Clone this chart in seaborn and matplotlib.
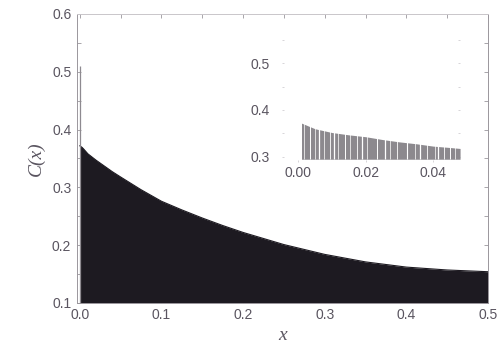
import matplotlib
matplotlib.use("Agg")
import matplotlib.pyplot as plt
from matplotlib.ticker import MultipleLocator
import seaborn as sns
import pandas as pd

# C(x) sampled along x
x_vals = [0.000, 0.003, 0.005, 0.010, 0.020, 0.030, 0.040, 0.050, 0.075, 0.100,
          0.125, 0.150, 0.175, 0.200, 0.250, 0.300, 0.350, 0.400, 0.450, 0.500]
c_vals = [0.372, 0.369, 0.366, 0.358, 0.347, 0.337, 0.327, 0.318, 0.296, 0.276,
          0.261, 0.247, 0.234, 0.222, 0.201, 0.184, 0.171, 0.162, 0.157, 0.154]

# narrow peak at the origin
spike_x = 0.0006
spike_top = 0.51

# magnified view near the origin
inset_x = [0.001, 0.005, 0.010, 0.015, 0.020, 0.025, 0.030, 0.035, 0.040, 0.045, 0.048]
inset_c = [0.372, 0.360, 0.352, 0.347, 0.343, 0.337, 0.332, 0.328, 0.323, 0.320, 0.318]
inset_gaps = [0.0006, 0.0016, 0.0036, 0.0050, 0.0063, 0.0077, 0.0093, 0.0105, 0.0119,
              0.0139, 0.0154, 0.0174, 0.0189, 0.0203, 0.0233, 0.0258, 0.0273, 0.0292,
              0.0322, 0.0347, 0.0361, 0.0381, 0.0406, 0.0416, 0.0431, 0.0450, 0.0465]
gap_widths = [0.9, 0.5, 0.7, 0.5, 0.9, 0.5, 0.6, 0.9, 0.5, 0.7, 0.5, 0.6, 0.9, 0.5,
              0.7, 0.9, 0.5, 0.6, 0.8, 0.5, 0.9, 0.6, 0.5, 0.9, 0.6, 0.7, 0.5]

main_xticks = [0.0, 0.1, 0.2, 0.3, 0.4, 0.5]
main_yticks = [0.1, 0.2, 0.3, 0.4, 0.5, 0.6]
inset_xticks = [0.00, 0.02, 0.04]
inset_yticks = [0.3, 0.4, 0.5]

sns.set_theme(style="ticks")
plt.rcParams["font.family"] = ["Liberation Sans", "DejaVu Sans"]

text_col = "#5a5560"
fill_col = "#1d1a21"
spine_col = "#9a969c"

fig = plt.figure(figsize=(4.99, 3.49), dpi=100)
ax = fig.add_axes([0.154, 0.132, 0.824, 0.828])

df = pd.DataFrame({"x": x_vals, "C": c_vals})
ax.fill_between(df["x"], 0.1, df["C"], color=fill_col, linewidth=0)
sns.lineplot(data=df, x="x", y="C", ax=ax, color=fill_col, linewidth=0.8)
ax.vlines(spike_x, 0.1, spike_top, color="#8e8a90", linewidth=0.9)

ax.set_xlim(-0.0035, 0.5)
ax.set_ylim(0.1, 0.6)
ax.set_xticks(main_xticks)
ax.set_yticks(main_yticks)
ax.set_xticklabels([f"{v:.1f}" for v in main_xticks])
ax.set_yticklabels([f"{v:.1f}" for v in main_yticks])
ax.xaxis.set_minor_locator(MultipleLocator(0.05))
ax.yaxis.set_minor_locator(MultipleLocator(0.05))
ax.tick_params(which="both", direction="in", top=True, right=True,
               length=3, width=0.6, color=spine_col, labelsize=10,
               labelcolor=text_col, pad=4)
for s in ax.spines.values():
    s.set_color(spine_col)
    s.set_linewidth(0.7)
ax.spines["top"].set_color("#c9c6ca")

ax.set_xlabel("x", family=["Liberation Serif"], style="italic", fontsize=14,
              color=text_col, labelpad=3)
ax.set_ylabel("C(x)", family=["Liberation Serif"], style="italic", fontsize=14,
              color=text_col, labelpad=5)

# inset
ins = fig.add_axes([0.565, 0.537, 0.357, 0.363])
ins.fill_between(inset_x, 0.295, inset_c, color="#8c898e", linewidth=0)
for gx, gw in zip(inset_gaps, gap_widths):
    ins.vlines(gx, 0.295, 0.38, color="white", linewidth=gw)
ins.set_xlim(-0.0048, 0.048)
ins.set_ylim(0.29, 0.56)
ins.set_xticks(inset_xticks)
ins.set_yticks(inset_yticks)
ins.set_xticklabels([f"{v:.2f}" for v in inset_xticks])
ins.set_yticklabels([f"{v:.1f}" for v in inset_yticks])
ins.yaxis.set_minor_locator(MultipleLocator(0.05))
ins.tick_params(which="both", direction="in", right=True, length=1.5, width=0.5,
                color="#c8c5c9", labelsize=10, labelcolor=text_col, pad=3)
ins.tick_params(axis="y", pad=9)
for s in ins.spines.values():
    s.set_visible(False)
ins.patch.set_alpha(0)

fig.savefig("out.png", dpi=100)
